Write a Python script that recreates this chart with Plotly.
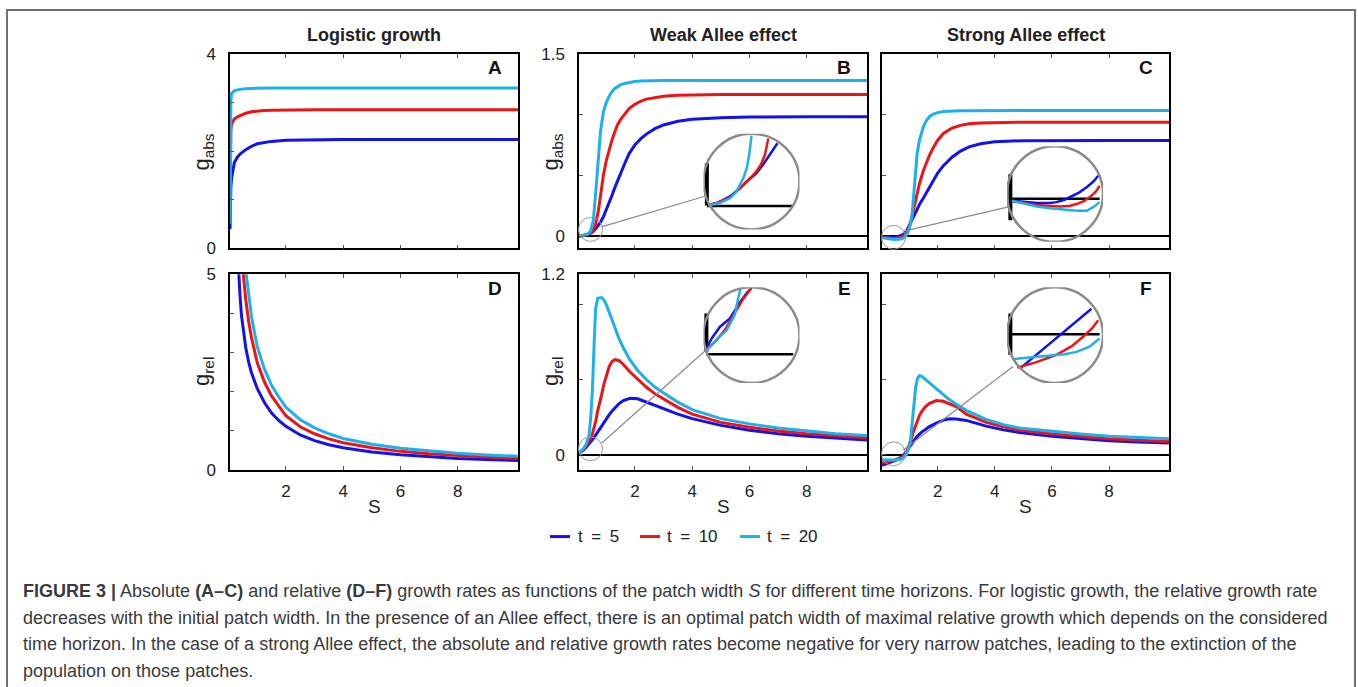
import plotly.graph_objects as go

W, H = 1358, 687

# ---------------- data ----------------
S_A = [0.05, 0.06, 0.08, 0.1, 0.15, 0.2, 0.3, 0.4, 0.6, 0.8, 1.0, 1.25, 1.5, 2.0, 2.5, 3.0, 4.0, 6.0, 8.0, 10.1]
gabs_A_t5 = [0.4, 0.9, 1.25, 1.42, 1.65, 1.76, 1.87, 1.94, 2.03, 2.1, 2.15, 2.18, 2.2, 2.225, 2.232, 2.236, 2.238, 2.24, 2.24, 2.24]
gabs_A_t10 = [0.5, 1.6, 2.4, 2.55, 2.62, 2.66, 2.7, 2.73, 2.78, 2.81, 2.825, 2.835, 2.842, 2.848, 2.85, 2.85, 2.85, 2.85, 2.85, 2.85]
gabs_A_t20 = [0.5, 2.0, 3.0, 3.18, 3.22, 3.24, 3.26, 3.27, 3.285, 3.29, 3.295, 3.298, 3.3, 3.3, 3.3, 3.3, 3.3, 3.3, 3.3, 3.3]

S_D = [0.3, 0.35, 0.4, 0.45, 0.5, 0.6, 0.7, 0.8, 1.0, 1.25, 1.5, 1.75, 2.0, 2.5, 3.0, 3.5, 4.0, 5.0, 6.0, 7.0, 8.0, 9.0, 10.1]
grel_D_t5 = [5.8, 4.95, 4.45, 3.95, 3.62, 3.12, 2.76, 2.48, 2.08, 1.72, 1.45, 1.26, 1.11, 0.89, 0.745, 0.64, 0.565, 0.455, 0.385, 0.33, 0.29, 0.26, 0.235]
grel_D_t10 = [8.4, 7.3, 6.4, 5.7, 5.1, 4.35, 3.8, 3.38, 2.74, 2.25, 1.89, 1.62, 1.38, 1.1, 0.92, 0.79, 0.69, 0.56, 0.47, 0.41, 0.36, 0.325, 0.295]
grel_D_t20 = [10.3, 8.9, 7.8, 6.9, 6.2, 5.1, 4.45, 3.92, 3.15, 2.58, 2.16, 1.86, 1.6, 1.28, 1.07, 0.92, 0.8, 0.65, 0.55, 0.48, 0.42, 0.38, 0.345]

S_B = [0.05, 0.2, 0.35, 0.45, 0.55, 0.63, 0.72, 0.8, 0.9, 1.0, 1.1, 1.2, 1.3, 1.4, 1.5, 1.65, 1.8, 2.0, 2.2, 2.4, 2.7, 3.0, 3.5, 4.0, 5.0, 6.0, 8.0, 10.1]
gabs_B_t5 = [0.0, 0.005, 0.015, 0.025, 0.04, 0.06, 0.085, 0.115, 0.16, 0.215, 0.275, 0.335, 0.4, 0.46, 0.52, 0.6, 0.68, 0.75, 0.8, 0.84, 0.885, 0.915, 0.945, 0.962, 0.975, 0.98, 0.982, 0.982]
gabs_B_t10 = [0.0, 0.005, 0.015, 0.028, 0.05, 0.1, 0.2, 0.33, 0.5, 0.62, 0.71, 0.79, 0.86, 0.92, 0.96, 1.01, 1.05, 1.085, 1.11, 1.128, 1.143, 1.152, 1.159, 1.163, 1.165, 1.165, 1.165, 1.165]
gabs_B_t20 = [0.0, 0.005, 0.015, 0.04, 0.13, 0.35, 0.62, 0.86, 1.02, 1.1, 1.15, 1.19, 1.215, 1.23, 1.245, 1.257, 1.265, 1.272, 1.276, 1.278, 1.28, 1.28, 1.28, 1.28, 1.28, 1.28, 1.28, 1.28]

S_C = [0.05, 0.2, 0.35, 0.5, 0.6, 0.7, 0.8, 0.85, 0.9, 0.95, 1.0, 1.05, 1.1, 1.15, 1.2, 1.28, 1.37, 1.5, 1.6, 1.72, 1.85, 2.0, 2.2, 2.5, 2.8, 3.1, 3.5, 4.0, 5.0, 6.0, 8.0, 10.1]
gabs_C_t5 = [-0.005, -0.008, -0.01, -0.008, -0.004, 0.003, 0.015, 0.025, 0.04, 0.06, 0.085, 0.11, 0.14, 0.165, 0.19, 0.225, 0.265, 0.315, 0.356, 0.405, 0.46, 0.52, 0.58, 0.65, 0.7, 0.735, 0.76, 0.777, 0.786, 0.788, 0.788, 0.788]
gabs_C_t10 = [-0.008, -0.014, -0.018, -0.018, -0.015, -0.01, 0.0, 0.01, 0.025, 0.045, 0.07, 0.11, 0.16, 0.21, 0.27, 0.35, 0.44, 0.54, 0.6, 0.67, 0.73, 0.79, 0.845, 0.89, 0.912, 0.925, 0.932, 0.936, 0.938, 0.938, 0.938, 0.938]
gabs_C_t20 = [-0.01, -0.018, -0.024, -0.027, -0.027, -0.024, -0.015, -0.008, 0.005, 0.025, 0.055, 0.1, 0.17, 0.32, 0.5, 0.68, 0.8, 0.9, 0.95, 0.985, 1.005, 1.017, 1.025, 1.03, 1.032, 1.033, 1.034, 1.034, 1.034, 1.034, 1.034, 1.034]

S_E = [0.05, 0.2, 0.3, 0.4, 0.46, 0.52, 0.58, 0.63, 0.7, 0.77, 0.84, 0.92, 1.0, 1.1, 1.2, 1.31, 1.45, 1.6, 1.83, 2.1, 2.4, 2.7, 3.0, 3.5, 4.0, 5.0, 6.0, 7.0, 8.0, 9.0, 10.1]
grel_E_t5 = [0.01, 0.03, 0.05, 0.07, 0.085, 0.1, 0.115, 0.13, 0.15, 0.17, 0.19, 0.215, 0.24, 0.265, 0.29, 0.315, 0.34, 0.36, 0.375, 0.372, 0.35, 0.33, 0.305, 0.27, 0.24, 0.195, 0.163, 0.14, 0.123, 0.109, 0.098]
grel_E_t10 = [0.01, 0.035, 0.06, 0.09, 0.11, 0.14, 0.18, 0.22, 0.29, 0.34, 0.4, 0.47, 0.53, 0.585, 0.62, 0.632, 0.625, 0.6, 0.55, 0.5, 0.45, 0.405, 0.37, 0.315, 0.27, 0.215, 0.182, 0.158, 0.14, 0.125, 0.113]
grel_E_t20 = [0.01, 0.04, 0.07, 0.13, 0.25, 0.44, 0.75, 0.97, 1.04, 1.045, 1.045, 1.03, 1.0, 0.95, 0.9, 0.84, 0.77, 0.71, 0.63, 0.56, 0.5, 0.45, 0.41, 0.35, 0.3, 0.24, 0.205, 0.177, 0.156, 0.14, 0.127]

S_F = [0.05, 0.3, 0.5, 0.7, 0.8, 0.9, 1.0, 1.05, 1.1, 1.16, 1.23, 1.3, 1.37, 1.45, 1.55, 1.7, 1.95, 2.2, 2.42, 2.65, 3.0, 3.7, 4.3, 4.86, 6.0, 7.0, 8.0, 9.0, 10.1]
grel_F_t5 = [-0.07, -0.055, -0.04, -0.02, -0.005, 0.02, 0.05, 0.065, 0.08, 0.095, 0.11, 0.125, 0.14, 0.152, 0.165, 0.185, 0.21, 0.23, 0.239, 0.238, 0.228, 0.19, 0.165, 0.148, 0.122, 0.105, 0.093, 0.084, 0.077]
grel_F_t10 = [-0.055, -0.045, -0.035, -0.02, -0.01, 0.01, 0.06, 0.09, 0.12, 0.16, 0.2, 0.235, 0.265, 0.29, 0.315, 0.34, 0.36, 0.355, 0.34, 0.32, 0.27, 0.215, 0.185, 0.165, 0.137, 0.12, 0.106, 0.096, 0.088]
grel_F_t20 = [-0.033, -0.035, -0.035, -0.03, -0.02, 0.0, 0.05, 0.1, 0.2, 0.33, 0.45, 0.51, 0.526, 0.52, 0.505, 0.48, 0.44, 0.4, 0.365, 0.335, 0.295, 0.235, 0.2, 0.178, 0.155, 0.138, 0.122, 0.113, 0.106]

# magnified insets (coordinates relative to the zoom circle, radius = 1)
insB_t5_x = [-0.90, -0.70, -0.45, -0.25, -0.10, 0.10, 0.24, 0.40, 0.54]
insB_t5_y = [-0.49, -0.44, -0.31, -0.15, 0.0, 0.17, 0.35, 0.58, 0.80]
insB_t10_x = [-0.90, -0.70, -0.45, -0.30, -0.17, 0.0, 0.10, 0.20, 0.28, 0.35]
insB_t10_y = [-0.49, -0.44, -0.33, -0.20, -0.07, 0.10, 0.21, 0.36, 0.56, 0.90]
insB_t20_x = [-0.90, -0.66, -0.45, -0.32, -0.24, -0.16, -0.10, -0.05, 0.0]
insB_t20_y = [-0.50, -0.45, -0.35, -0.22, -0.07, 0.10, 0.28, 0.55, 0.96]
insB_axis = dict(vx=-0.93, vy=[-0.50, 0.38], hy=-0.51, hx=[-0.93, 0.87])

insC_t5_x = [-0.90, -0.60, -0.38, -0.10, 0.03, 0.20, 0.31, 0.50, 0.66, 0.80, 0.90]
insC_t5_y = [-0.14, -0.17, -0.19, -0.19, -0.17, -0.12, -0.07, 0.03, 0.14, 0.26, 0.38]
insC_t10_x = [-0.90, -0.60, -0.38, -0.10, 0.10, 0.30, 0.45, 0.60, 0.72, 0.85, 0.93]
insC_t10_y = [-0.15, -0.20, -0.23, -0.25, -0.26, -0.25, -0.21, -0.15, -0.07, 0.05, 0.17]
insC_t20_x = [-0.90, -0.60, -0.38, -0.10, 0.17, 0.45, 0.66, 0.79, 0.93]
insC_t20_y = [-0.14, -0.21, -0.26, -0.30, -0.33, -0.35, -0.35, -0.28, -0.17]
insC_axis = dict(vx=-0.93, vy=[-0.55, 0.41], hy=-0.10, hx=[-0.93, 0.93])

insE_t5_x = [-0.94, -0.83, -0.66, -0.45, -0.24, -0.10, 0.0]
insE_t5_y = [-0.28, -0.07, 0.17, 0.35, 0.69, 0.88, 0.98]
insE_t10_x = [-0.94, -0.76, -0.56, -0.35, -0.17, -0.05, 0.0]
insE_t10_y = [-0.30, -0.14, 0.10, 0.45, 0.76, 0.92, 0.98]
insE_t20_x = [-0.94, -0.73, -0.52, -0.35, -0.28, -0.23]
insE_t20_y = [-0.33, -0.10, 0.10, 0.42, 0.76, 0.96]
insE_axis = dict(vx=-0.94, vy=[-0.35, 0.45], hy=-0.40, hx=[-0.94, 0.87])

insF_t5_x = [-0.72, 0.03, 0.76]
insF_t5_y = [-0.69, -0.07, 0.55]
insF_t10_x = [-0.79, -0.40, 0.03, 0.35, 0.59, 0.78, 0.90]
insF_t10_y = [-0.68, -0.57, -0.41, -0.23, -0.03, 0.15, 0.31]
insF_t20_x = [-0.86, -0.50, -0.10, 0.20, 0.45, 0.72, 0.93]
insF_t20_y = [-0.50, -0.47, -0.43, -0.40, -0.35, -0.24, -0.07]
insF_axis = dict(vx=-0.93, vy=[-0.41, 0.45], hy=0.02, hx=[-0.93, 0.93])

x_ticks = [2, 4, 6, 8]
series_names = ["t = 5", "t = 10", "t = 20"]
BLUE, RED, CYAN = "#1212ec", "#ee1414", "#1cb0ec"
COLORS = [BLUE, RED, CYAN]

# ---------------- helpers ----------------
# the photographed page shows the figure slightly squeezed vertically;
# target pixel positions are mapped back through this correction
Y_OFF, Y_SCALE = 8.0, 0.975


def px(x):
    return x / W


def py(y):
    return 1 - ((y - Y_OFF) / Y_SCALE) / H


FONT = "Liberation Sans, Arial, Helvetica, sans-serif"

# panel pixel boxes: x0, x1, ytop, ybottom
panels = {
    "A": (230, 518, 53, 248),
    "B": (579, 867, 53, 248),
    "C": (882, 1169, 53, 248),
    "D": (230, 518, 274, 470),
    "E": (579, 867, 274, 470),
    "F": (882, 1169, 274, 470),
}
# inset circles: centre x, centre y, radius (pixels)
insets = {
    "B": (751.5, 181, 48),
    "C": (1055, 193.5, 48),
    "E": (751.5, 335, 48),
    "F": (1055, 335, 48),
}
small_circles = {
    "B": (590.5, 229, 12),
    "C": (893.5, 237, 12),
    "E": (590.5, 449, 12),
    "F": (893.5, 454, 12),
}
connectors = {
    "B": ((601.5, 226.5), (704, 196)),
    "C": ((905, 230.5), (1008.5, 206.5)),
    "E": ((601.5, 443.5), (706, 350)),
    "F": ((903.5, 450), (1013, 366.5)),
}

fig = go.Figure()
layout = dict(
    width=W, height=H, margin=dict(l=0, r=0, t=0, b=0),
    paper_bgcolor="white", plot_bgcolor="rgba(0,0,0,0)",
    showlegend=False, font=dict(family=FONT, color="#222", size=16),
)

panel_specs = {
    # axis index, y range, labelled ticks, unlabelled ticks, show labels, zero line, x labels
    "A": (1, [0, 4], [0, 4], [1, 2, 3], True, False, False),
    "B": (2, [-0.1, 1.5], [0, 1.5], [0.5, 1.0], True, True, False),
    "C": (3, [-0.1, 1.5], [0, 1.5], [0.5, 1.0], False, True, False),
    "D": (4, [0, 5], [0, 5], [1, 2, 3, 4], True, False, True),
    "E": (5, [-0.1, 1.2], [0, 1.2], [0.5, 1.0], True, True, True),
    "F": (6, [-0.1, 1.2], [0, 1.2], [0.5, 1.0], False, True, True),
}

for key, (idx, yr, tv, mtv, yl, zl, xl) in panel_specs.items():
    x0, x1, yt, yb = panels[key]
    sfx = "" if idx == 1 else str(idx)
    layout["xaxis" + sfx] = dict(
        domain=[px(x0), px(x1)], range=[0.05, 10.1], anchor="y" + sfx,
        tickvals=x_ticks, ticks="inside", ticklen=4, tickwidth=1, tickcolor="#555",
        showline=True, linecolor="black", linewidth=1.5, mirror="ticks",
        showgrid=False, zeroline=False, showticklabels=xl,
        tickfont=dict(size=17, color="#222", family=FONT), ticklabelstandoff=5,
    )
    layout["yaxis" + sfx] = dict(
        domain=[py(yb), py(yt)], range=yr, anchor="x" + sfx,
        tickvals=tv, ticks="inside", ticklen=4, tickwidth=1, tickcolor="#555",
        minor=dict(tickvals=mtv, ticks="inside", ticklen=4, tickwidth=1, tickcolor="#555", showgrid=False),
        showline=True, linecolor="black", linewidth=1.5, mirror=True,
        showgrid=False, zeroline=zl, zerolinecolor="black", zerolinewidth=1.5,
        showticklabels=yl,
        tickfont=dict(size=17, color="#222", family=FONT), ticklabelstandoff=9,
    )

panel_data = {
    "A": (S_A, [gabs_A_t5, gabs_A_t10, gabs_A_t20]),
    "B": (S_B, [gabs_B_t5, gabs_B_t10, gabs_B_t20]),
    "C": (S_C, [gabs_C_t5, gabs_C_t10, gabs_C_t20]),
    "D": (S_D, [grel_D_t5, grel_D_t10, grel_D_t20]),
    "E": (S_E, [grel_E_t5, grel_E_t10, grel_E_t20]),
    "F": (S_F, [grel_F_t5, grel_F_t10, grel_F_t20]),
}
for key, (xs, ys_list) in panel_data.items():
    idx = panel_specs[key][0]
    sfx = "" if idx == 1 else str(idx)
    for ys, col, name in zip(ys_list, COLORS, series_names):
        fig.add_trace(go.Scatter(
            x=xs, y=ys, mode="lines", name=name,
            line=dict(color=col, width=3), xaxis="x" + sfx, yaxis="y" + sfx,
            hoverinfo="skip",
        ))

inset_data = {
    "B": ([(insB_t5_x, insB_t5_y), (insB_t10_x, insB_t10_y), (insB_t20_x, insB_t20_y)], insB_axis),
    "C": ([(insC_t5_x, insC_t5_y), (insC_t10_x, insC_t10_y), (insC_t20_x, insC_t20_y)], insC_axis),
    "E": ([(insE_t5_x, insE_t5_y), (insE_t10_x, insE_t10_y), (insE_t20_x, insE_t20_y)], insE_axis),
    "F": ([(insF_t5_x, insF_t5_y), (insF_t10_x, insF_t10_y), (insF_t20_x, insF_t20_y)], insF_axis),
}
shapes = []
for n, (key, (curves, ax)) in enumerate(inset_data.items()):
    idx = 7 + n
    cx, cy, r = insets[key]
    layout["xaxis%d" % idx] = dict(domain=[px(cx - r), px(cx + r)], range=[-1, 1],
                                   anchor="y%d" % idx, visible=False, fixedrange=True)
    layout["yaxis%d" % idx] = dict(domain=[py(cy + r), py(cy - r)], range=[-1, 1],
                                   anchor="x%d" % idx, visible=False, fixedrange=True)
    xa, ya = "x%d" % idx, "y%d" % idx
    # magnified axis and zero line
    fig.add_trace(go.Scatter(x=[ax["vx"], ax["vx"]], y=ax["vy"], mode="lines",
                             line=dict(color="black", width=4), xaxis=xa, yaxis=ya, hoverinfo="skip"))
    fig.add_trace(go.Scatter(x=ax["hx"], y=[ax["hy"], ax["hy"]], mode="lines",
                             line=dict(color="black", width=2.5), xaxis=xa, yaxis=ya, hoverinfo="skip"))
    for (xs, ys), col in zip(curves, COLORS):
        fig.add_trace(go.Scatter(x=xs, y=ys, mode="lines", line=dict(color=col, width=2.5),
                                 xaxis=xa, yaxis=ya, hoverinfo="skip"))
    shapes.append(dict(type="circle", xref=xa, yref=ya, x0=-1, x1=1, y0=-1, y1=1,
                       line=dict(color="#8a8a8a", width=2.5), layer="above"))

for key, (cx, cy, r) in small_circles.items():
    shapes.append(dict(type="circle", xref="paper", yref="paper",
                       x0=px(cx - r), x1=px(cx + r), y0=py(cy + r), y1=py(cy - r),
                       line=dict(color="#999", width=1), layer="above"))
for key, ((xa_, ya_), (xb_, yb_)) in connectors.items():
    shapes.append(dict(type="line", xref="paper", yref="paper",
                       x0=px(xa_), y0=py(ya_), x1=px(xb_), y1=py(yb_),
                       line=dict(color="#8a8a8a", width=1.2), layer="above"))

# outer frame
shapes.append(dict(type="rect", xref="paper", yref="paper",
                   x0=px(7), x1=px(1355), y0=py(9), y1=py(720),
                   line=dict(color="#707070", width=2), layer="above"))

# legend (line samples)
legend_x = [550, 640, 740]
legend_tx = [576, 665, 765]
legend_y = 537
for lx, col in zip(legend_x, COLORS):
    shapes.append(dict(type="line", xref="paper", yref="paper",
                       x0=px(lx), x1=px(lx + 20), y0=py(legend_y), y1=py(legend_y),
                       line=dict(color=col, width=3)))

annotations = []


def ann(text, x, y, size=16, bold=False, xanchor="center", angle=0, color="#222"):
    annotations.append(dict(
        text=("<b>%s</b>" % text) if bold else text, x=px(x), y=py(y),
        xref="paper", yref="paper", xanchor=xanchor, yanchor="middle",
        showarrow=False, textangle=angle,
        font=dict(size=size, color=color, family=FONT),
    ))


ann("Logistic growth", 374, 34, size=18, bold=True)
ann("Weak Allee effect", 723, 34, size=18, bold=True)
ann("Strong Allee effect", 1025.5, 34, size=18, bold=True)

for key, (x0, x1, yt, yb) in panels.items():
    ann(key, x1 - 23, yt + 14, size=19, bold=True, color="#111")

ann("g<sub>abs</sub>", 203, 152, size=22, angle=-90)
ann("g<sub>abs</sub>", 552, 152, size=22, angle=-90)
ann("g<sub>rel</sub>", 203, 372, size=22, angle=-90)
ann("g<sub>rel</sub>", 552, 372, size=22, angle=-90)
for cxp in (374, 723, 1025.5):
    ann("S", cxp, 507, size=19)

for tx, name in zip(legend_tx, series_names):
    ann(name.replace(" ", "\u2002"), tx, legend_y, size=17, xanchor="left")

cap_color = "#3a3a3a"
caption_lines = [
    "<b>FIGURE 3 |</b> Absolute <b>(A–C)</b> and relative <b>(D–F)</b> growth rates as functions of the patch width <i>S</i> for different time horizons. For logistic growth, the relative growth rate",
    "decreases with the initial patch width. In the presence of an Allee effect, there is an optimal patch width of maximal relative growth which depends on the considered",
    "time horizon. In the case of a strong Allee effect, the absolute and relative growth rates become negative for very narrow patches, leading to the extinction of the",
    "population on those patches.",
]
for i, line in enumerate(caption_lines):
    ann(line, 21, 592 + 26.6 * i, size=18, xanchor="left", color=cap_color)

layout["shapes"] = shapes
layout["annotations"] = annotations
fig.update_layout(**layout)
fig.write_html("out.html")
